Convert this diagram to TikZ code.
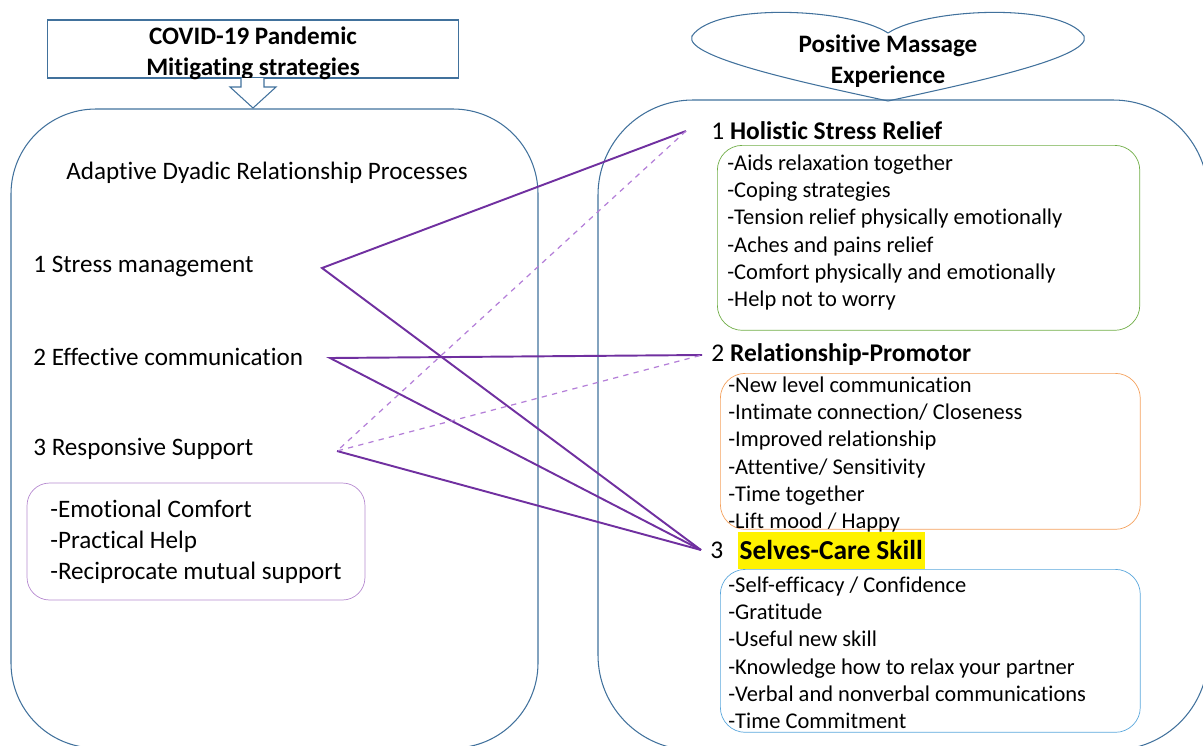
\documentclass[tikz,border=0pt]{standalone}
\usepackage{fontspec}
\setmainfont{Carlito}[Ligatures=NoCommon]
\usepackage{tikz}
\usetikzlibrary{positioning}
\tikzset{>=latex}

\definecolor{panelblue}{HTML}{41719C}
\definecolor{linkpurple}{HTML}{7030A0}
\definecolor{dashpurple}{HTML}{B47FD8}
\definecolor{reliefgreen}{HTML}{70AD47}
\definecolor{promotorange}{HTML}{F4A15D}
\definecolor{skillblue}{HTML}{5BA7DC}
\definecolor{supportpurple}{HTML}{B68AD0}

\newcommand{\itemfont}{\fontsize{12.8}{15.5}\selectfont}
\newcommand{\procfont}{\fontsize{14.3}{17.6}\selectfont}

\tikzset{
	panel/.style={draw=panelblue, line width=0.6pt, rounded corners=1.7cm},
	itemframe/.style={draw=#1, rounded corners=0.5cm, anchor=north west, minimum width=8.45cm},
	itemlist/.style={align=left, anchor=north west, inner sep=0pt, font=\itemfont},
	heading/.style={anchor=west, inner ysep=0pt, inner xsep=0.18cm, font=\fontsize{14.5}{17}\selectfont},
	process/.style={anchor=west, inner sep=0pt, font=\procfont},
	title/.style={align=center, font=\bfseries\fontsize{14.3}{17.6}\selectfont},
	link/.style={linkpurple, line width=1.1pt},
	weaklink/.style={dashpurple, dashed, line width=0.7pt}
}

\begin{document}
\begin{tikzpicture}[x=0.02cm, y=-0.02cm]
		\useasboundingbox (0,0) rectangle (1203,745);

		% Panels
		\draw[panel] (11,109) rectangle (538,748);
		\draw[panel, rounded corners=1.9cm] (598,100) rectangle (1208,750);

		% Title boxes
		\node[draw=panelblue, line width=0.6pt, minimum width=8.24cm, minimum height=1.16cm] (covid) at (253,49) {};
		\node[title] (covidtext) at (253,53) {COVID-19 Pandemic\\Mitigating strategies};
		\draw[panelblue, line width=0.6pt, fill=white] (241,78) -- (241,87) -- (230,87) -- (253,108)
			-- (276,87) -- (264,87) -- (264,78);
		%
		\draw[panelblue, line width=0.6pt] (888,33) .. controls (850,8) and (715,2) .. (692,36)
			.. controls (682,58) and (820,86) .. (888,101)
			.. controls (956,86) and (1094,58) .. (1084,36)
			.. controls (1061,2) and (926,8) .. (888,33);
		\node[title] (pme) at (888,61) {Positive Massage\\Experience};

		% Left side
		\node[process] (adrp) at (66,173) {Adaptive Dyadic Relationship Processes};
		\node[process] (sm) at (33,266) {1 Stress management};
		\node[process] (ec) at (33,357) {2 Effective communication};
		\node[process] (rs) at (33,449) {3 Responsive Support};
		\node[draw=supportpurple, rounded corners=0.45cm, align=left, minimum width=6.76cm,
			minimum height=2.34cm, font=\procfont] (rsbox) at (196,541.5)
			{-Emotional Comfort\\-Practical Help\\-Reciprocate mutual support};

		% Right side
		\node[heading, inner xsep=0.5cm] (hsr) at (686,131) {1 \textbf{Holistic Stress Relief}};
		\node[itemframe=reliefgreen, minimum height=3.7cm] (hsrbox) at (717,145) {};
		\node[itemlist, below right=0.19cm and 0.2cm of hsrbox.north west] (hsrlist)
			{-Aids relaxation together\\-Coping strategies\\-Tension relief physically emotionally\\
			-Aches and pains relief\\-Comfort physically and emotionally\\-Help not to worry};
		%
		\node[heading] (rp) at (702,355) {2 \textbf{Relationship-Promotor}};
		\node[itemframe=promotorange, minimum width=8.4cm, minimum height=3.12cm] (rpbox) at (720,373) {};
		\node[itemlist, below right=0.07cm and 0.16cm of rpbox.north west] (rplist)
			{-New level communication\\-Intimate connection/ Closeness\\-Improved relationship\\
			-Attentive/ Sensitivity\\-Time together\\-Lift mood / Happy};
		%
		\node[heading] (scsnum) at (701,550) {3};
		\node[fill=yellow, inner xsep=1pt, inner ysep=5pt, font=\bfseries\fontsize{15.6}{18}\selectfont,
			right=0.1cm of scsnum] (scs) {Selves-Care Skill};
		\node[itemframe=skillblue, minimum width=8.4cm, minimum height=3.26cm] (scsbox) at (720,569) {};
		\node[itemlist, below right=0.15cm and 0.16cm of scsbox.north west] (scslist)
			{-Self-efficacy / Confidence\\-Gratitude\\-Useful new skill\\
			-Knowledge how to relax your partner\\-Verbal and nonverbal communications\\-Time Commitment};

		% Links
		\coordinate (sm-tip) at (322,268);
		\coordinate (ec-tip) at (330,358);
		\coordinate (rs-tip) at (337,451);
		\draw[link] (hsr.west) -- (sm-tip) -- (scsnum.west);
		\draw[link] (rp.west) -- (ec-tip) -- (scsnum.west);
		\draw[link] (rs-tip) -- (scsnum.west);
		\draw[weaklink] (hsr.west) -- (rs-tip) -- (rp.west);
	\end{tikzpicture}
\end{document}
